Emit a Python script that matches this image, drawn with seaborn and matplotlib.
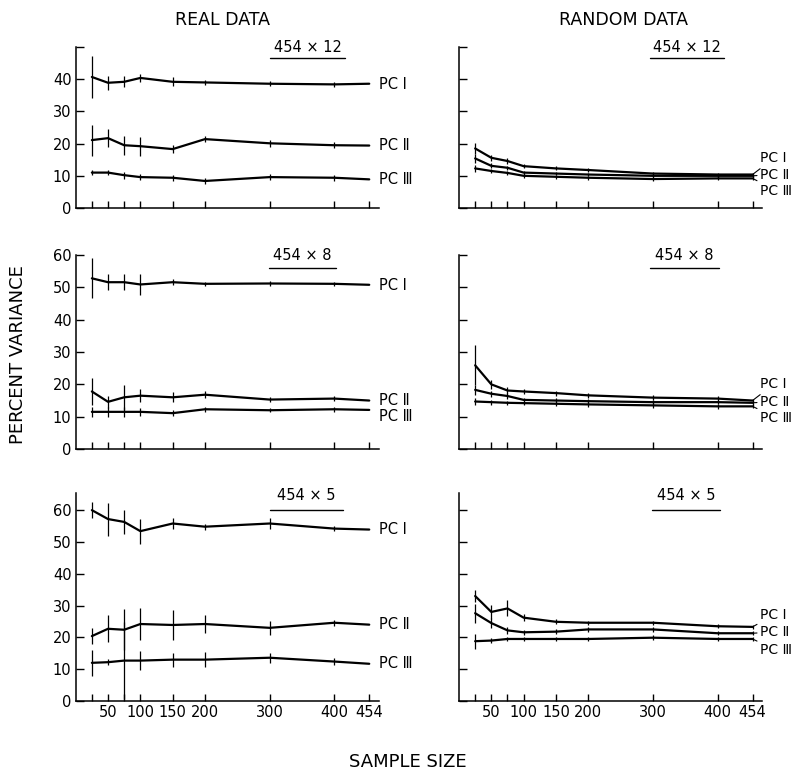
import numpy as np
import pandas as pd
import seaborn as sns
import matplotlib.pyplot as plt

sns.set_theme(style="ticks")
plt.rcParams['font.family'] = ['DejaVu Sans']
plt.rcParams['text.color'] = 'black'
plt.rcParams['xtick.color'] = 'black'
plt.rcParams['ytick.color'] = 'black'
plt.rcParams['axes.labelcolor'] = 'black'

# sample sizes on the x axis
sizes = [25, 50, 75, 100, 150, 200, 300, 400, 454]
tick_labels = ['', '50', '', '100', '150', '200', '300', '400', '454']
pc_names = ['PC Ⅰ', 'PC Ⅱ', 'PC Ⅲ']

# real data, 454 x 12
real12_pc1 = [40.7, 38.9, 39.2, 40.4, 39.2, 39.0, 38.6, 38.4, 38.6]
real12_pc2 = [21.1, 21.7, 19.5, 19.2, 18.3, 21.4, 20.1, 19.5, 19.4]
real12_pc3 = [11.0, 11.0, 10.2, 9.6, 9.4, 8.4, 9.6, 9.4, 8.9]
real12_err1 = [6.4, 2.1, 1.7, 1.2, 1.4, 0.9, 0.7, 0.8, 0]
real12_err2 = [4.8, 2.9, 2.9, 3.0, 1.2, 1.0, 1.0, 0.9, 0]
real12_err3 = [0.9, 0.9, 1.1, 1.0, 1.0, 0.9, 0.9, 0.9, 0]

# random data, 454 x 12
rand12_pc1 = [18.5, 15.6, 14.6, 13.0, 12.3, 11.8, 10.7, 10.4, 10.4]
rand12_pc2 = [15.4, 13.1, 12.5, 11.0, 10.7, 10.4, 10.0, 10.0, 10.0]
rand12_pc3 = [12.3, 11.5, 10.9, 10.0, 9.7, 9.4, 9.0, 9.2, 9.2]
rand12_err1 = [1.8, 0.9, 0.8, 0.7, 0.6, 0.6, 0.6, 0.6, 0.6]
rand12_err2 = [1.5, 0.8, 0.7, 0.6, 0.6, 0.6, 0.6, 0.6, 0.6]
rand12_err3 = [1.2, 0.7, 0.6, 0.6, 0.6, 0.6, 0.6, 0.6, 0.6]

# real data, 454 x 8
real8_pc1 = [52.8, 51.6, 51.6, 50.9, 51.6, 51.1, 51.2, 51.1, 50.8]
real8_pc2 = [17.8, 14.6, 16.0, 16.5, 16.0, 16.8, 15.3, 15.6, 15.0]
real8_pc3 = [11.5, 11.5, 11.5, 11.5, 11.1, 12.3, 12.0, 12.3, 12.1]
real8_err1 = [6.2, 2.4, 2.4, 3.3, 1.0, 0.7, 0.7, 0.7, 0]
real8_err2 = [4.3, 1.8, 3.9, 2.0, 1.5, 1.0, 0.9, 0.8, 0]
real8_err3 = [1.5, 1.5, 1.5, 1.2, 1.0, 0.8, 0.7, 0.7, 0]

# random data, 454 x 8
rand8_pc1 = [25.9, 20.0, 18.1, 17.8, 17.3, 16.6, 15.9, 15.6, 15.0]
rand8_pc2 = [18.3, 17.1, 16.4, 15.2, 15.0, 14.8, 14.5, 14.5, 14.3]
rand8_pc3 = [14.7, 14.5, 14.3, 14.2, 14.0, 13.8, 13.5, 13.2, 13.2]
rand8_err1 = [6.2, 1.5, 1.0, 0.8, 0.8, 0.7, 0.7, 0.7, 0.6]
rand8_err2 = [1.5, 0.9, 0.8, 0.7, 0.7, 0.7, 0.7, 0.7, 0.6]
rand8_err3 = [1.0, 0.8, 0.7, 0.7, 0.7, 0.7, 0.7, 0.7, 0.6]

# real data, 454 x 5
real5_pc1 = [60.0, 57.2, 56.3, 53.4, 55.8, 54.8, 55.8, 54.2, 53.9]
real5_pc2 = [20.4, 22.7, 22.4, 24.2, 23.9, 24.2, 23.0, 24.6, 24.0]
real5_pc3 = [12.0, 12.2, 12.7, 12.7, 13.0, 13.0, 13.6, 12.4, 11.7]
real5_err1 = [2.6, 5.2, 3.8, 3.9, 1.6, 0.9, 1.6, 0.8, 0]
real5_err2 = [2.5, 4.2, 6.5, 5.0, 4.7, 2.9, 2.2, 1.0, 0]
real5_err3 = [4.0, 1.0, 12.0, 3.1, 2.2, 2.3, 1.5, 1.0, 0]

# random data, 454 x 5
rand5_pc1 = [33.0, 28.0, 29.1, 26.2, 24.9, 24.6, 24.6, 23.5, 23.3]
rand5_pc2 = [27.6, 24.5, 22.2, 21.6, 21.8, 22.5, 22.5, 21.3, 21.3]
rand5_pc3 = [18.8, 19.0, 19.5, 19.5, 19.5, 19.5, 19.9, 19.5, 19.5]
rand5_err1 = [2.0, 2.2, 2.5, 1.0, 0.8, 0.7, 0.7, 0.7, 0.6]
rand5_err2 = [3.0, 1.5, 1.0, 0.8, 0.7, 0.7, 0.7, 0.7, 0.6]
rand5_err3 = [2.3, 0.8, 0.7, 0.7, 0.7, 0.7, 0.7, 0.7, 0.6]

# where the PC name labels sit (percent), per panel
real12_label_y = [38.5, 19.4, 8.9]
rand12_label_y = [15.4, 10.4, 5.4]
real8_label_y = [50.6, 15.1, 10.2]
rand8_label_y = [20.0, 14.7, 9.6]
real5_label_y = [53.9, 24.0, 11.7]
rand5_label_y = [27.0, 21.7, 16.0]

panels = [
    (0, 0, [real12_pc1, real12_pc2, real12_pc3], [real12_err1, real12_err2, real12_err3], real12_label_y, False, '454 × 12', (300, 417)),
    (0, 1, [rand12_pc1, rand12_pc2, rand12_pc3], [rand12_err1, rand12_err2, rand12_err3], rand12_label_y, True, '454 × 12', (296, 410)),
    (1, 0, [real8_pc1, real8_pc2, real8_pc3], [real8_err1, real8_err2, real8_err3], real8_label_y, False, '454 × 8', (299, 403)),
    (1, 1, [rand8_pc1, rand8_pc2, rand8_pc3], [rand8_err1, rand8_err2, rand8_err3], rand8_label_y, True, '454 × 8', (296, 402)),
    (2, 0, [real5_pc1, real5_pc2, real5_pc3], [real5_err1, real5_err2, real5_err3], real5_label_y, False, '454 × 5', (300, 413)),
    (2, 1, [rand5_pc1, rand5_pc2, rand5_pc3], [rand5_err1, rand5_err2, rand5_err3], rand5_label_y, True, '454 × 5', (298, 404)),
]

row_ylim = [(0, 50), (0, 60), (0, 65.4)]
row_yticks = [[0, 10, 20, 30, 40, 50], [0, 10, 20, 30, 40, 50, 60], [0, 10, 20, 30, 40, 50, 60]]
row_ylabels = [['0', '10', '20', '30', '40', ''], ['0', '10', '20', '30', '40', '50', '60'],
               ['0', '10', '20', '30', '40', '50', '60']]

fig = plt.figure(figsize=(8.02, 7.71), dpi=100)
row_boxes = [(0.7302, 0.2088), (0.4176, 0.2516), (0.0908, 0.2698)]
col_left = [0.0944, 0.5723]
col_w = 0.3781
# (text centre, underline) heights in axes fraction, per row
size_label_pos = [(0.995, 0.93), (1.0, 0.933), (0.99, 0.918)]

for row, col, series, errs, label_y, leader, size_label, uline in panels:
    bottom, height = row_boxes[row]
    ax = fig.add_axes([col_left[col], bottom, col_w, height])
    for k, (vals, err, name) in enumerate(zip(series, errs, pc_names)):
        df = pd.DataFrame({'size': sizes, 'pct': vals})
        sns.lineplot(data=df, x='size', y='pct', color='black', lw=1.6, ax=ax)
        ax.errorbar(sizes, vals, yerr=err, fmt='none', ecolor='black', elinewidth=0.9, capsize=0)
        if leader:
            ax.annotate(name, xy=(sizes[-1], vals[-1]), xytext=(466, label_y[k]),
                        va='center', ha='left', fontsize=10, annotation_clip=False,
                        arrowprops=dict(arrowstyle='-', lw=0.8, color='black', shrinkA=0, shrinkB=0))
        else:
            ax.text(469, label_y[k], name, va='center', ha='left', fontsize=10.5, clip_on=False)
    ax.set_xlim(0, 469)
    ax.set_ylim(*row_ylim[row])
    ax.set_xticks(sizes)
    ax.set_yticks(row_yticks[row])
    ax.set_xticklabels(tick_labels if row == 2 else [''] * len(sizes))
    ax.set_yticklabels(row_ylabels[row] if col == 0 else [''] * len(row_yticks[row]))
    ax.set_xlabel('')
    ax.set_ylabel('')
    ax.tick_params(direction='in', length=5, width=1, labelsize=10.5, colors='black', pad=3)
    ax.tick_params(axis='y', length=6)
    sns.despine(ax=ax)
    for s in ['left', 'bottom']:
        ax.spines[s].set_linewidth(1.1)
        ax.spines[s].set_color('black')
    # matrix size label with underline
    ty, uy = size_label_pos[row]
    ax.text((uline[0] + uline[1]) / 2, ty, size_label, transform=ax.get_xaxis_transform(),
            ha='center', va='center', fontsize=10.5)
    ax.plot(list(uline), [uy, uy], color='black', lw=1.0,
            transform=ax.get_xaxis_transform(), clip_on=False)

fig.text(0.278, 0.974, 'REAL DATA', ha='center', va='center', fontsize=12.5)
fig.text(0.777, 0.974, 'RANDOM DATA', ha='center', va='center', fontsize=12.5)
fig.text(0.023, 0.54, 'PERCENT VARIANCE', ha='center', va='center', rotation=90, fontsize=13)
fig.text(0.508, 0.0115, 'SAMPLE SIZE', ha='center', va='center', fontsize=13)

fig.savefig('out.png', dpi=100, facecolor='white')
